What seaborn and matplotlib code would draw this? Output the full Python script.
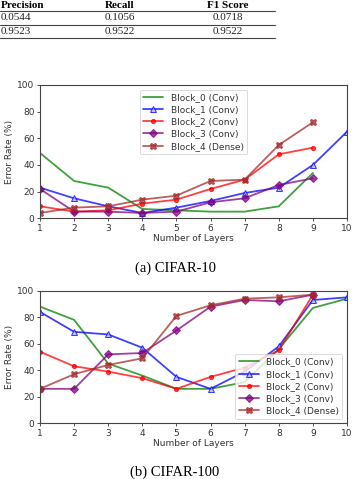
import numpy as np
import pandas as pd
import seaborn as sns
import matplotlib.pyplot as plt
from matplotlib.lines import Line2D

# table fragment on top of the page
table_header = ['Precision', 'Recall', 'F1 Score']
table_row1 = ['0.0544', '0.1056', '0.0718']
table_row2 = ['0.9523', '0.9522', '0.9522']

block_names = ['Block_0 (Conv)', 'Block_1 (Conv)', 'Block_2 (Conv)',
               'Block_3 (Conv)', 'Block_4 (Dense)']

# CIFAR-10 error rates (%)
c10_block0 = [49, 28, 23, 7, 6, 5, 5, 9, 34]
c10_block1 = [23, 15, 9, 4, 8, 13, 19, 23, 40, 65]
c10_block2 = [9, 5, 6, 11, 14, 22, 29, 48, 53]
c10_block3 = [22, 5, 5, 4, 5, 12, 15, 25, 30]
c10_block4 = [4, 8, 9, 14, 17, 28, 29, 55, 72]

# CIFAR-100 error rates (%)
c100_block0 = [88, 78, 45, 36, 26, 26, 31, 56, 87, 94]
c100_block1 = [84, 69, 67, 57, 35, 26, 39, 58, 93, 95]
c100_block2 = [54, 43, 39, 34, 26, 35, 42, 55, 97]
c100_block3 = [26, 26, 52, 53, 70, 88, 93, 92, 97]
c100_block4 = [26, 37, 44, 49, 81, 89, 94, 95, 97]

colors = ['green', 'blue', 'red', 'purple', 'brown']
markers = [None, '^', '.', 'D', 'X']
face = ['green', '#b0b0ff', 'red', 'purple', 'brown']

sns.set_theme(style="ticks")
plt.rcParams['font.family'] = ['DejaVu Sans']
plt.rcParams['text.color'] = '#333333'
plt.rcParams['axes.labelcolor'] = '#333333'
plt.rcParams['xtick.color'] = '#333333'
plt.rcParams['ytick.color'] = '#333333'

fig = plt.figure(figsize=(3.53, 4.79), dpi=100)

# table
serif = ['Liberation Serif', 'DejaVu Serif']
col_x = [0.0, 0.34, 0.646]
for i, h in enumerate(table_header):
    xx = col_x[i] + (0.002 if i == 0 else 0)
    ha = 'left' if i == 0 else 'center'
    fig.text(xx, 1 - 5 / 479, h, ha=ha, va='center', fontsize=8,
             fontweight='bold', family=serif, color='black')
for i in range(3):
    xx = 0.002 if i == 0 else col_x[i]
    ha = 'left' if i == 0 else 'center'
    fig.text(xx, 1 - 17 / 479, table_row1[i], ha=ha, va='center', fontsize=8,
             family=serif, color='#222222')
    fig.text(xx, 1 - 31 / 479, table_row2[i], ha=ha, va='center', fontsize=8,
             family=serif, color='#222222')
for yy in [11, 24.5, 38]:
    fig.add_artist(Line2D([0, 275 / 353], [1 - yy / 479, 1 - yy / 479],
                          color='#444444', lw=0.8))


def draw(ax, series, legend_loc):
    for vals, name, c, m, fc in zip(series, block_names, colors, markers, face):
        layers = np.arange(1, len(vals) + 1)
        ms = 5
        if m == '.':
            ms = 6
        elif m == 'D':
            ms = 4.5
        sns.lineplot(x=layers, y=vals, ax=ax, color=c, marker=m, label=name,
                     alpha=0.75, linewidth=1.3, markersize=ms,
                     markeredgecolor=c, markerfacecolor=fc)
    ax.set_xlim(1, 10)
    ax.set_ylim(0, 100)
    ax.set_xticks(range(1, 11))
    ax.set_yticks(range(0, 101, 20))
    ax.tick_params(labelsize=6.5, length=2.5, width=0.6, pad=1.5)
    for s in ax.spines.values():
        s.set_color('#444444')
        s.set_linewidth(0.8)
    ax.set_xlabel('Number of Layers', fontsize=6.5, labelpad=1)
    ax.set_ylabel('Error Rate (%)', fontsize=6.5, labelpad=2)
    leg = ax.legend(loc=legend_loc, fontsize=6.5, frameon=True,
                    handlelength=2.2, labelspacing=0.35, borderpad=0.4)
    leg.get_frame().set_edgecolor('#cccccc')
    leg.get_frame().set_linewidth(0.6)


ax1 = fig.add_axes([40 / 353, 1 - 218.3 / 479, 307 / 353, 133.3 / 479])
draw(ax1, [c10_block0, c10_block1, c10_block2, c10_block3, c10_block4],
     'upper center')
fig.text(0.496, 1 - 268 / 479, '(a) CIFAR-10', ha='center', va='center',
         fontsize=10.5, family=serif, color='black')

ax2 = fig.add_axes([40 / 353, 1 - 423.3 / 479, 307 / 353, 132.6 / 479])
draw(ax2, [c100_block0, c100_block1, c100_block2, c100_block3, c100_block4],
     'lower right')
fig.text(0.496, 1 - 472 / 479, '(b) CIFAR-100', ha='center', va='center',
         fontsize=10.5, family=serif, color='black')

plt.savefig('out.png', dpi=100)
